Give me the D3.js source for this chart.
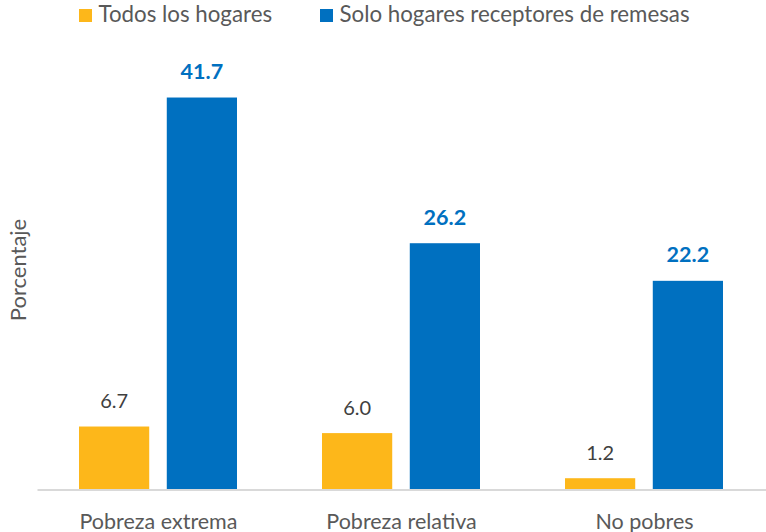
<!DOCTYPE html>
<html><head><meta charset="utf-8">
<script src="https://cdn.jsdelivr.net/npm/d3@7"></script>
<style>body{margin:0;background:#fff}svg{display:block}text{font-family:Lato,"Open Sans",sans-serif}</style>
</head><body>
<svg id="c" width="766" height="532"></svg>
<script>
const categories = ["Pobreza extrema", "Pobreza relativa", "No pobres"];
const seriesNames = ["Todos los hogares", "Solo hogares receptores de remesas"];
const todos = [6.7, 6.0, 1.2];
const remesas = [41.7, 26.2, 22.2];
const colors = ["#FDB71A", "#0070C0"];

const svg = d3.select("#c");
const baseY = 489.5;
const y = d3.scaleLinear().domain([0, 45]).range([baseY, baseY - 45 * 9.4]);
const x0 = d3.scaleBand().domain(categories).range([37, 766]).paddingInner(0).paddingOuter(0);
const x1 = d3.scaleBand().domain([0, 1]).range([42, 243 - 43]).paddingInner(0.2).paddingOuter(0);

const series = [todos, remesas];
categories.forEach((c, i) => {
  const g = svg.append("g").attr("transform", `translate(${x0(c)},0)`);
  series.forEach((s, k) => {
    g.append("rect").attr("x", x1(k)).attr("width", x1.bandwidth())
      .attr("y", y(s[i])).attr("height", baseY - y(s[i])).attr("fill", colors[k]);
    g.append("text").attr("x", x1(k) + x1.bandwidth() / 2).attr("y", y(s[i]) - 18.5)
      .attr("text-anchor", "middle").attr("font-size", k === 1 ? 21.5 : 20)
      .attr("font-weight", k === 1 ? "bold" : "normal")
      .attr("fill", k === 1 ? "#0070C0" : "#404040")
      .text(s[i].toFixed(1));
  });
});

// axis
const xAxis = d3.axisBottom(x0).tickSize(0).tickPadding(0);
const ax = svg.append("g").attr("transform", `translate(0,${baseY})`).call(xAxis);
ax.select(".domain").attr("stroke", "#D9D9D9").attr("stroke-width", 2);
ax.selectAll("text").attr("font-size", 21.5).attr("fill", "#595959")
  .attr("font-family", "Lato").attr("dy", null).attr("y", 39);

// y title
svg.append("text").attr("transform", "translate(26,270) rotate(-90)")
  .attr("text-anchor", "middle").attr("font-size", 22).attr("fill", "#595959").text("Porcentaje");

// legend
const legX = [79, 320];
seriesNames.forEach((n, k) => {
  svg.append("rect").attr("x", legX[k]).attr("y", 9).attr("width", 13).attr("height", 13).attr("fill", colors[k]);
  svg.append("text").attr("x", legX[k] + 19.5).attr("y", 22).attr("font-size", 22.3).attr("fill", "#595959").text(n);
});
</script>
</body></html>
